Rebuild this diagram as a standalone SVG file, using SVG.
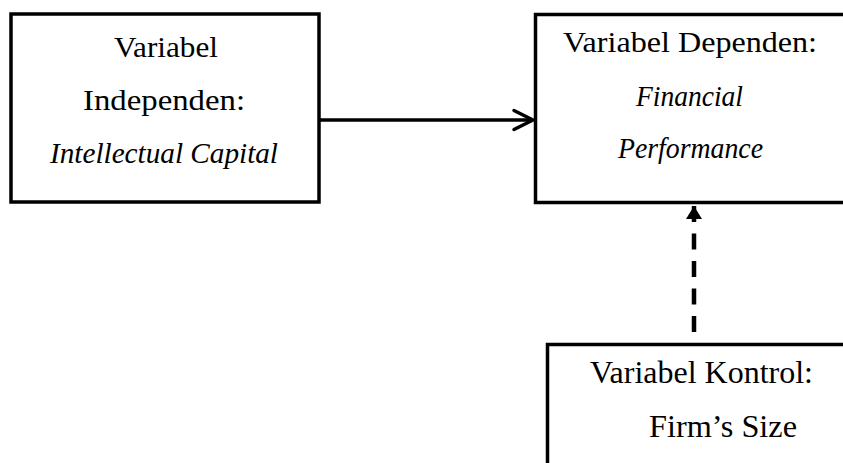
<svg xmlns="http://www.w3.org/2000/svg" width="843" height="463" viewBox="0 0 843 463">
  <style>
    .box { fill: #fff; stroke: #000; stroke-width: 3.5; }
    .t { font-family: "Liberation Serif", "Times New Roman", serif; font-size: 30px; fill: #000; }
    .i { font-style: italic; }
    .k { font-size: 31px; }
    .conn { fill: none; stroke: #000; }
  </style>
  <defs>
    <marker id="openArrow" markerUnits="userSpaceOnUse" markerWidth="30" markerHeight="30" viewBox="-25 -15 30 30" refX="0" refY="0" orient="auto" overflow="visible">
      <path d="M-19,-9.5 L0,0 L-19,9.5" fill="none" stroke="#000" stroke-width="3.5" stroke-linecap="round" stroke-linejoin="round"/>
    </marker>
    <marker id="solidArrow" markerUnits="userSpaceOnUse" markerWidth="20" markerHeight="20" viewBox="-14 -10 16 20" refX="0" refY="0" orient="auto" overflow="visible">
      <path d="M0,0 L-13,-8 L-13,8 Z" fill="#000"/>
    </marker>
  </defs>
  <rect width="843" height="463" fill="#fff"/>

  <g id="node-independen">
    <rect class="box" x="11" y="14" width="308" height="188"/>
    <text class="t" x="114" y="57" textLength="104" lengthAdjust="spacingAndGlyphs">Variabel</text>
    <text class="t" x="83" y="110" textLength="162" lengthAdjust="spacingAndGlyphs">Independen:</text>
    <text class="t i" x="50" y="163" textLength="228" lengthAdjust="spacingAndGlyphs">Intellectual Capital</text>
  </g>

  <g id="node-dependen">
    <rect class="box" x="535.5" y="14.5" width="320" height="188"/>
    <text class="t" x="563" y="52" textLength="254" lengthAdjust="spacingAndGlyphs">Variabel Dependen:</text>
    <text class="t i" x="636" y="106" textLength="107" lengthAdjust="spacingAndGlyphs">Financial</text>
    <text class="t i" x="618" y="158" textLength="145" lengthAdjust="spacingAndGlyphs">Performance</text>
  </g>

  <g id="node-kontrol">
    <rect class="box" x="547.5" y="344.5" width="320" height="150"/>
    <text class="t k" x="590" y="383" textLength="223" lengthAdjust="spacingAndGlyphs">Variabel Kontrol:</text>
    <text class="t k" x="649" y="437" textLength="148" lengthAdjust="spacingAndGlyphs">Firm’s Size</text>
  </g>

  <g id="connectors">
    <line class="conn" x1="319" y1="120" x2="533" y2="120" stroke-width="3.5" marker-end="url(#openArrow)"/>
    <line class="conn" x1="694" y1="332" x2="694" y2="206" stroke-width="4.5" stroke-dasharray="16 11.5" marker-end="url(#solidArrow)"/>
  </g>
</svg>
